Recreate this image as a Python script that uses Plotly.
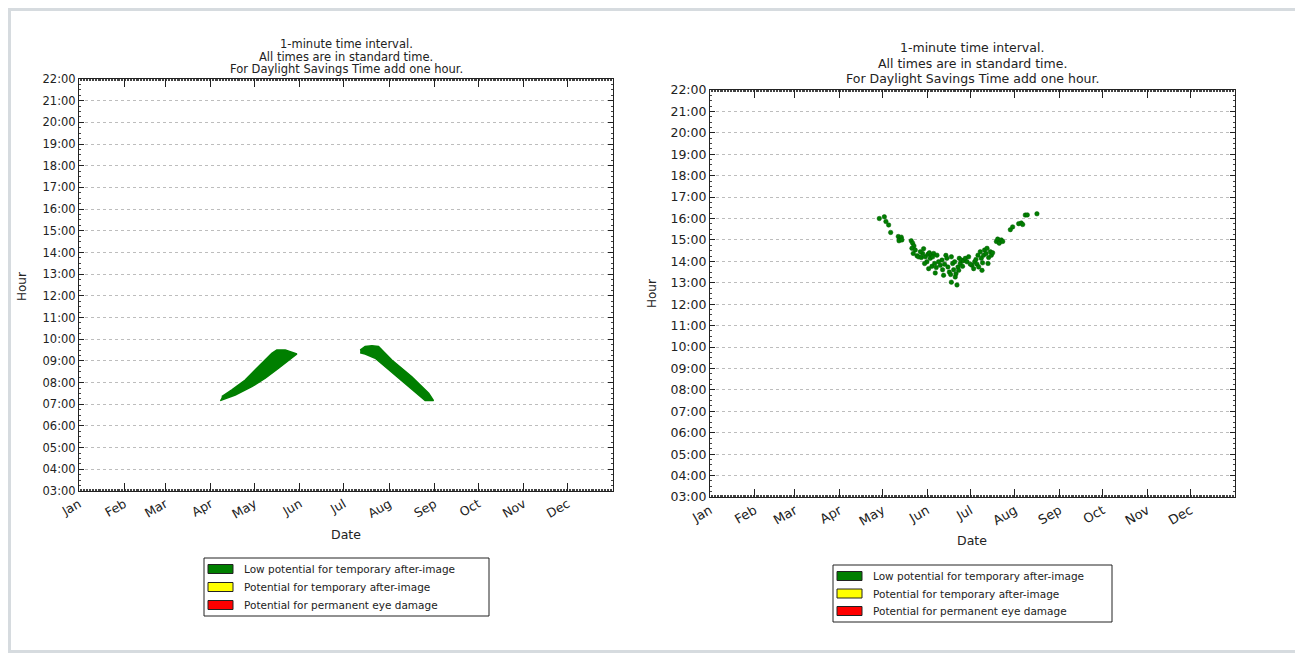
import pandas as pd
import plotly.graph_objects as go

# ---------------- data ----------------
month_labels = ["Jan", "Feb", "Mar", "Apr", "May", "Jun",
                "Jul", "Aug", "Sep", "Oct", "Nov", "Dec"]
hour_ticks = list(range(3, 23))
hour_labels = ["%02d:00" % h for h in hour_ticks]

# Left chart: two dense glare bands (outline of the band, day-of-year / hour)
band1_day = [97.5, 107.8, 119.1, 128.3, 137.4, 144.2, 147.6, 149.9,
             142.0, 136.2, 132.8, 123.7, 114.6, 105.5, 98.6]
band1_hour = [7.17, 7.43, 7.81, 8.20, 8.66, 9.04, 9.23, 9.32,
              9.50, 9.50, 9.35, 8.73, 8.12, 7.66, 7.35]
band2_day = [193.2, 196.6, 201.2, 205.7, 214.8, 228.5, 240.0, 243.3,
             237.6, 226.2, 212.6, 203.5, 196.6, 193.2]
band2_hour = [9.50, 9.66, 9.70, 9.66, 9.04, 8.27, 7.51, 7.17,
              7.17, 7.81, 8.58, 9.12, 9.32, 9.38]

# Right chart: scattered glare occurrences (day-of-year / hour)
pts_day = [118.7, 122.2, 123.3, 125.2, 126.6, 131.9, 132.8, 134.0, 132.4, 134.4,
           140.9, 141.9, 142.8, 141.4, 143.7, 142.3, 144.9, 146.0, 147.9, 149.5,
           148.8, 150.7, 152.5, 153.5, 154.8, 154.1, 156.5, 155.8, 153.0, 155.3,
           157.2, 158.3, 157.6, 159.9, 161.1, 162.3, 162.7, 164.1, 165.0, 165.7,
           166.4, 167.4, 168.3, 168.8, 169.7, 170.4, 171.1, 171.5, 172.7, 172.0,
           173.4, 174.3, 175.0, 175.7, 176.6, 177.3, 178.5, 179.7, 180.8, 183.1,
           184.3, 185.0, 185.9, 186.6, 187.3, 187.8, 188.9, 189.6, 190.5, 191.2,
           191.9, 192.9, 193.6, 194.7, 195.9, 196.6, 200.1, 201.0, 202.1, 203.5,
           204.5, 209.8, 211.4, 215.6, 217.4, 218.4, 220.2, 221.6, 228.3, 151.8,
           150.2, 158.8, 163.4, 173.9, 182.0, 190.1, 194.3, 168.8, 147.2, 197.5]
pts_hour = [16.00, 16.08, 15.86, 15.70, 15.35, 15.16, 15.05, 15.13, 14.96, 15.00,
            14.96, 14.85, 14.72, 14.61, 14.53, 14.37, 14.26, 14.21, 14.18, 14.59,
            14.37, 14.21, 14.33, 14.40, 14.29, 14.14, 14.37, 14.21, 13.66, 13.77,
            13.90, 13.71, 13.46, 13.98, 13.82, 14.06, 13.61, 13.87, 14.28, 14.14,
            13.74, 13.50, 13.39, 13.03, 13.90, 13.61, 13.98, 13.27, 12.90, 13.42,
            13.74, 14.14, 13.90, 14.06, 13.77, 14.03, 14.14, 13.98, 14.21, 13.82,
            13.66, 13.98, 14.09, 13.87, 14.29, 13.74, 14.45, 14.14, 13.93, 14.29,
            14.53, 14.37, 14.61, 14.18, 14.45, 14.29, 14.93, 15.04, 14.85, 15.00,
            14.93, 15.48, 15.61, 15.76, 15.79, 15.72, 16.16, 16.17, 16.22, 13.98,
            13.90, 14.29, 13.35, 13.58, 13.87, 13.58, 13.90, 14.21, 14.45, 14.40]

title_lines = ["1-minute time interval.",
               "All times are in standard time.",
               "For Daylight Savings Time add one hour."]
legend_names = ["Low potential for temporary after-image",
                "Potential for temporary after-image",
                "Potential for permanent eye damage"]
legend_colors = ["#007f00", "#ffff00", "#ff0000"]

# ---------------- helpers ----------------
YEAR0 = pd.Timestamp("2015-01-01")


def to_dates(days):
    return [YEAR0 + pd.to_timedelta(d - 1, unit="D") for d in days]


W, H = 1303, 653
OFF = 8  # the page places the figure 8 px from the top-left corner


def px(x):
    return (x - OFF) / W


def py(y):
    return 1 - (y - OFF) / H


FONT = "DejaVu Sans"
GREEN = "#007f00"
INK = "#222222"

fig = go.Figure()

fig.add_trace(go.Scatter(x=to_dates(band1_day), y=band1_hour, mode="lines",
                         fill="toself", fillcolor=GREEN,
                         line=dict(color=GREEN, width=1.5),
                         xaxis="x", yaxis="y", showlegend=False))
fig.add_trace(go.Scatter(x=to_dates(band2_day), y=band2_hour, mode="lines",
                         fill="toself", fillcolor=GREEN,
                         line=dict(color=GREEN, width=1.5),
                         xaxis="x", yaxis="y", showlegend=False))
fig.add_trace(go.Scatter(x=to_dates(pts_day), y=pts_hour, mode="markers",
                         marker=dict(color=GREEN, size=4.5,
                                     line=dict(color="#005a00", width=0.5)),
                         xaxis="x2", yaxis="y2", showlegend=False))

panels = [
    # (x-left, x-right, y-top, y-bottom, y font size, x font size)
    (79, 613, 79, 491, 11.5, 12.5),
    (710, 1235, 90, 497, 12.5, 13),
]

tickvals_x = [pd.Timestamp(2015, m, 1) for m in range(1, 13)]

for i, (xl, xr, yt, yb, fs, xfs) in enumerate(panels):
    sfx = "" if i == 0 else str(i + 1)
    xa = dict(
        domain=[px(xl), px(xr)], anchor="y" + sfx, type="date",
        range=["2015-01-01", "2016-01-01"], automargin=False,
        tickvals=tickvals_x, ticktext=month_labels, tickangle=-30,
        ticks="inside", ticklen=8, tickcolor=INK, tickwidth=1,
        mirror="allticks", showline=True, linecolor=INK, linewidth=1,
        showgrid=False, zeroline=False,
        tickfont=dict(family=FONT, size=xfs, color=INK),
        minor=dict(ticks="inside", ticklen=2, dtick=86400000,
                   tickcolor="#444", showgrid=False),
    )
    ya = dict(
        domain=[py(yb), py(yt)], anchor="x" + sfx, automargin=False,
        range=[3, 22], tickvals=hour_ticks, ticktext=hour_labels,
        ticks="inside", ticklen=5, tickcolor=INK, tickwidth=1,
        mirror="allticks", showline=True, linecolor=INK, linewidth=1,
        showgrid=True, gridcolor="#bdbdbd", griddash="dot", gridwidth=1,
        zeroline=False,
        tickfont=dict(family=FONT, size=fs, color=INK),
        minor=dict(ticks="inside", ticklen=2, dtick=0.25,
                   tickcolor="#444", showgrid=False),
    )
    fig.update_layout(**{"xaxis" + sfx: xa, "yaxis" + sfx: ya})

annotations = []
shapes = []

# titles and axis labels
title_pos = [(346, [44, 57, 69.5], 11.5), (972, [48, 63.5, 79], 12.5)]
hour_pos = [(22, 287), (652, 294)]
date_pos = [(346, 534), (972, 540)]
for i in range(2):
    tx, tys, tfs = title_pos[i]
    for line, ty in zip(title_lines, tys):
        annotations.append(dict(x=px(tx), y=py(ty), xref="paper", yref="paper",
                                text=line, showarrow=False, xanchor="center",
                                yanchor="middle",
                                font=dict(family=FONT, size=tfs, color=INK)))
    hx, hy = hour_pos[i]
    annotations.append(dict(x=px(hx), y=py(hy), xref="paper", yref="paper",
                            text="Hour", textangle=-90, showarrow=False,
                            xanchor="center", yanchor="middle",
                            font=dict(family=FONT, size=12, color=INK)))
    dx, dy = date_pos[i]
    annotations.append(dict(x=px(dx), y=py(dy), xref="paper", yref="paper",
                            text="Date", showarrow=False,
                            xanchor="center", yanchor="middle",
                            font=dict(family=FONT, size=12.5, color=INK)))

# legends (box, colour patches, labels)
legend_boxes = [(204, 489, 558, 616, 569, 18, 10.5),
                (833, 1112, 565, 622, 576, 17.5, 10.5)]
for (bx0, bx1, by0, by1, first, step, lfs) in legend_boxes:
    shapes.append(dict(type="rect", xref="paper", yref="paper",
                       x0=px(bx0), x1=px(bx1), y0=py(by1), y1=py(by0),
                       line=dict(color=INK, width=1), fillcolor="white"))
    for k, (name, col) in enumerate(zip(legend_names, legend_colors)):
        cy = first + k * step
        shapes.append(dict(type="rect", xref="paper", yref="paper",
                           x0=px(bx0 + 4), x1=px(bx0 + 29),
                           y0=py(cy + 4.5), y1=py(cy - 4.5),
                           line=dict(color=INK, width=1), fillcolor=col))
        annotations.append(dict(x=px(bx0 + 38), y=py(cy), xref="paper",
                                yref="paper", text=name, showarrow=False,
                                xanchor="left", yanchor="middle",
                                font=dict(family=FONT, size=lfs, color=INK)))

# outer light-grey frame (as close to the page edge as the page allows)
shapes.append(dict(type="rect", xref="paper", yref="paper",
                   x0=px(9.5), x1=px(1298), y0=py(651.5), y1=py(9.5),
                   line=dict(color="#d6dbdf", width=3), layer="below"))

fig.update_layout(
    width=W, height=H, margin=dict(l=0, r=0, t=0, b=0, autoexpand=False),
    paper_bgcolor="white", plot_bgcolor="white",
    showlegend=False, annotations=annotations, shapes=shapes,
    font=dict(family=FONT, color=INK),
)

fig.write_html("out.html")
